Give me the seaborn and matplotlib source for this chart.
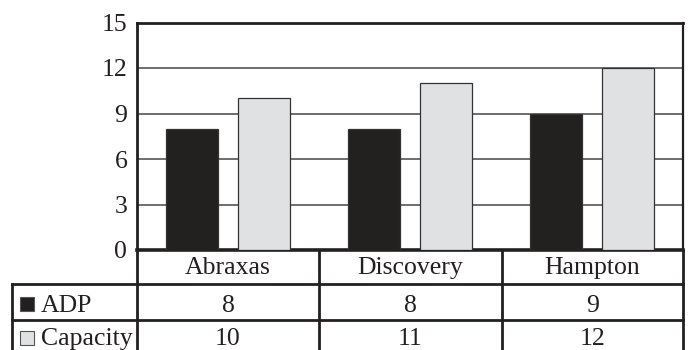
import matplotlib
matplotlib.use("Agg")
import matplotlib.pyplot as plt
import seaborn as sns
import pandas as pd
from matplotlib.patches import Rectangle
from matplotlib.lines import Line2D

categories = ["Abraxas", "Discovery", "Hampton"]
series_names = ["ADP", "Capacity"]
adp = [8, 8, 9]
capacity = [10, 11, 12]
yticks = [0, 3, 6, 9, 12, 15]
colors = ["#231f20", "#e0e1e3"]

sns.set_theme(style="white")
plt.rcParams["font.family"] = ["Liberation Serif", "DejaVu Serif"]

df = pd.DataFrame({
    "Unit": categories * 2,
    "Series": [series_names[0]] * 3 + [series_names[1]] * 3,
    "Value": adp + capacity,
})

W, H = 688, 350
FS = 18.5
fig = plt.figure(figsize=(6.88, 3.5), dpi=100)
fig.patch.set_facecolor("white")


def fx(px):
    return px / W


def fy(py):
    return 1 - py / H


L, R, T, B = 137, 683, 22.5, 250
ax = fig.add_axes([fx(L), fy(B), fx(R) - fx(L), fy(T) - fy(B)])
sns.barplot(data=df, x="Unit", y="Value", hue="Series", palette=colors,
            width=0.8, gap=0.285, edgecolor="#333333", linewidth=0.9,
            ax=ax, legend=False, zorder=3)
ax.set_ylim(0, 15)
ax.set_xlim(-0.5, 2.5)
ax.set_yticks(yticks)
ax.set_yticklabels([str(v) for v in yticks])
ax.set_xlabel("")
ax.set_ylabel("")
ax.set_axisbelow(True)
ax.yaxis.grid(True, color="#555555", linewidth=1.2)
ax.xaxis.grid(False)
ax.tick_params(axis="y", length=0, pad=7, labelsize=FS, colors="#231f20")
ax.tick_params(axis="x", length=0, pad=5, labelsize=FS, colors="#231f20")
ax.set_facecolor("white")
for side, lw in [("top", 2.0), ("left", 2.0), ("right", 1.6), ("bottom", 2.6)]:
    ax.spines[side].set_visible(True)
    ax.spines[side].set_color("#231f20")
    ax.spines[side].set_linewidth(lw)

# data table below the axes
line_c = "#231f20"


def hline(y, x0, x1, lw=2.0):
    fig.add_artist(Line2D([fx(x0), fx(x1)], [fy(y), fy(y)], transform=fig.transFigure,
                          color=line_c, linewidth=lw, solid_capstyle="projecting"))


def vline(x, y0, y1, lw=2.0):
    fig.add_artist(Line2D([fx(x), fx(x)], [fy(y0), fy(y1)], transform=fig.transFigure,
                          color=line_c, linewidth=lw, solid_capstyle="projecting"))


col_edges = [137, 319, 502, 683]
hline(284, 12, 683)
hline(320, 12, 683)
vline(12, 284, 360)
vline(137, 250, 360)
for xe in col_edges[1:]:
    vline(xe, 250, 360)

col_centres = [(col_edges[i] + col_edges[i + 1]) / 2 for i in range(3)]
row_baselines = [312, 345]
rows = [adp, capacity]
for r, vals in enumerate(rows):
    for c, v in enumerate(vals):
        fig.text(fx(col_centres[c]), fy(row_baselines[r]), str(v), ha="center",
                 va="baseline", fontsize=FS, color="#231f20")

# row labels with legend swatches
sw_top = [297, 331]
for r, name in enumerate(series_names):
    fig.add_artist(Rectangle((fx(20), fy(sw_top[r] + 14)), fx(14), 14 / H,
                             transform=fig.transFigure, facecolor=colors[r],
                             edgecolor="#555555", linewidth=0.8))
    fig.text(fx(41), fy(row_baselines[r]), name, ha="left", va="baseline",
             fontsize=FS, color="#231f20")

fig.savefig("out.png", dpi=100, facecolor="white")
